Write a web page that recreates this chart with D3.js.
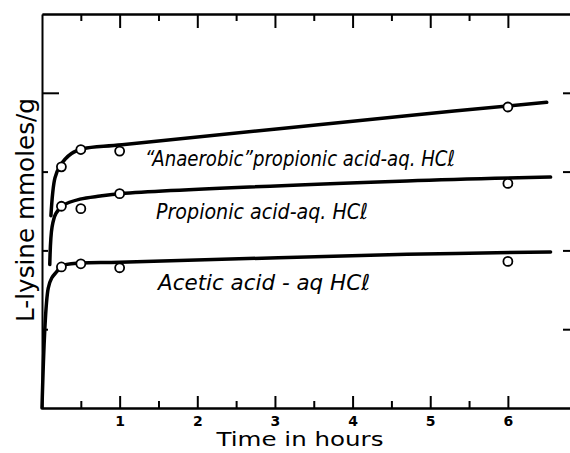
<!DOCTYPE html>
<html>
<head>
<meta charset="utf-8">
<script src="https://cdn.jsdelivr.net/npm/d3@7"></script>
<style>
  html, body { margin: 0; padding: 0; background: #fff; }
  svg { display: block; }
  .axis path, .axis line { stroke: #000; stroke-width: 2; }
</style>
</head>
<body>
<div id="chart"></div>
<script>
// measured points (hours, arbitrary lysine units; 1 unit = 1 y tick)
const hours = [0.25, 0.5, 1, 6];
const anaerobicPts = [3.06, 3.28, 3.26, 3.82];
const propionicPts = [2.56, 2.53, 2.72, 2.85];
const aceticPts = [1.79, 1.83, 1.78, 1.86];

// hand-drawn fitted curves
const anaerobicCurve = [[0.115, 2.44], [0.167, 2.92], [0.23, 3.07], [0.38, 3.23], [0.53, 3.29], [1.03, 3.34], [4.7, 3.71], [6.5, 3.88]];
const propionicCurve = [[0.1, 1.82], [0.13, 2.3], [0.18, 2.47], [0.27, 2.57], [0.49, 2.65], [0.75, 2.69], [1.01, 2.72], [4.7, 2.88], [6.55, 2.93]];
const aceticCurve = [[0, 0], [0.08, 1.52], [0.125, 1.65], [0.19, 1.73], [0.25, 1.8], [0.5, 1.84], [1, 1.85], [4.7, 1.95], [6.55, 1.98]];

const seriesLabels = ['\u201cAnaerobic\u201dpropionic acid-aq. HC\u2113', 'Propionic acid-aq. HC\u2113', 'Acetic acid - aq HC\u2113'];
const xIntTicks = [1, 2, 3, 4, 5, 6];
const xHalfTicks = [0.5, 1.5, 2.5, 3.5, 4.5, 5.5];
const yTicks = [1, 2, 3, 4];

const width = 570, height = 453;
const margin = {top: 14, right: 0, bottom: 45, left: 42};

const svg = d3.select('#chart').append('svg')
  .attr('width', width)
  .attr('height', height);

const xScale = d3.scaleLinear().domain([0, 6.8]).range([margin.left, width - margin.right]);
const yScale = d3.scaleLinear().domain([0, 5]).range([height - margin.bottom, margin.top]);

const font = '"DejaVu Sans", sans-serif';

// bottom axis: half-hour ticks short, hour ticks long with labels
svg.append('g').attr('class', 'axis')
  .attr('transform', `translate(0,${yScale(0)})`)
  .call(d3.axisBottom(xScale).tickValues(xHalfTicks).tickSizeInner(-7).tickSizeOuter(0).tickFormat(''));
svg.append('g').attr('class', 'axis')
  .attr('transform', `translate(0,${yScale(0)})`)
  .call(d3.axisBottom(xScale).tickValues(xIntTicks).tickSizeInner(-12).tickSizeOuter(0).tickPadding(8).tickFormat(d3.format('d')))
  .call(g => g.selectAll('text').style('font-family', font).style('font-size', '14px').style('font-weight', 'bold').attr('fill', '#000'));

// top frame with ticks hanging down
svg.append('g').attr('class', 'axis')
  .attr('transform', `translate(0,${yScale(5)})`)
  .call(d3.axisTop(xScale).tickValues(xHalfTicks).tickSizeInner(-7).tickSizeOuter(0).tickFormat(''));
svg.append('g').attr('class', 'axis')
  .attr('transform', `translate(0,${yScale(5)})`)
  .call(d3.axisTop(xScale).tickValues(xIntTicks).tickSizeInner(-14).tickSizeOuter(0).tickFormat(''));

// left axis
svg.append('g').attr('class', 'axis')
  .attr('transform', `translate(${xScale(0)},0)`)
  .call(d3.axisLeft(yScale).tickValues(yTicks.filter(d => d !== 4)).tickSizeInner(-6).tickSizeOuter(0).tickFormat(''));
svg.append('g').attr('class', 'axis')
  .attr('transform', `translate(${xScale(0)},0)`)
  .call(d3.axisLeft(yScale).tickValues([4]).tickSizeInner(-17).tickSizeOuter(0).tickFormat(''))
  .call(g => g.select('.domain').remove());

// loose ticks at the right edge
svg.append('g').attr('class', 'axis')
  .attr('transform', `translate(${width - 7},0)`)
  .call(d3.axisRight(yScale).tickValues(yTicks).tickSize(7).tickFormat(''))
  .call(g => g.select('.domain').remove());

// axis titles
svg.append('text')
  .attr('x', 300).attr('y', 446)
  .attr('text-anchor', 'middle')
  .attr('textLength', 167)
  .attr('lengthAdjust', 'spacingAndGlyphs')
  .style('font-family', font).style('font-size', '19px')
  .text('Time in hours');

svg.append('text')
  .attr('transform', 'translate(34,210) rotate(-90)')
  .attr('text-anchor', 'middle')
  .attr('textLength', 224)
  .attr('lengthAdjust', 'spacingAndGlyphs')
  .style('font-family', font).style('font-size', '24px')
  .text('L-lysine mmoles/g');

// curves
const line = d3.line()
  .x(d => xScale(d[0]))
  .y(d => yScale(d[1]))
  .curve(d3.curveCatmullRom.alpha(0.5));

const curves = [anaerobicCurve, propionicCurve, aceticCurve];
svg.selectAll('.curve')
  .data(curves)
  .join('path')
  .attr('class', 'curve')
  .attr('fill', 'none')
  .attr('stroke', '#000')
  .attr('stroke-width', 3.5)
  .attr('stroke-linecap', 'round')
  .attr('d', line);

// open circles
const pointSets = [anaerobicPts, propionicPts, aceticPts];
pointSets.forEach((vals) => {
  svg.append('g')
    .selectAll('circle')
    .data(vals.map((v, i) => [hours[i], v]))
    .join('circle')
    .attr('cx', d => xScale(d[0]))
    .attr('cy', d => yScale(d[1]))
    .attr('r', 4.5)
    .attr('fill', '#fff')
    .attr('stroke', '#000')
    .attr('stroke-width', 1.8);
});

// series labels (hand lettered, italic)
const labelPos = [
  {x: 145, y: 166, w: 310},
  {x: 156, y: 219, w: 212},
  {x: 158, y: 290, w: 212},
];
svg.selectAll('.series-label')
  .data(seriesLabels)
  .join('text')
  .attr('class', 'series-label')
  .attr('x', (d, i) => labelPos[i].x)
  .attr('y', (d, i) => labelPos[i].y)
  .attr('textLength', (d, i) => labelPos[i].w)
  .attr('lengthAdjust', 'spacingAndGlyphs')
  .style('font-family', font)
  .style('font-style', 'italic')
  .style('font-size', '22px')
  .text(d => d);
</script>
</body>
</html>
